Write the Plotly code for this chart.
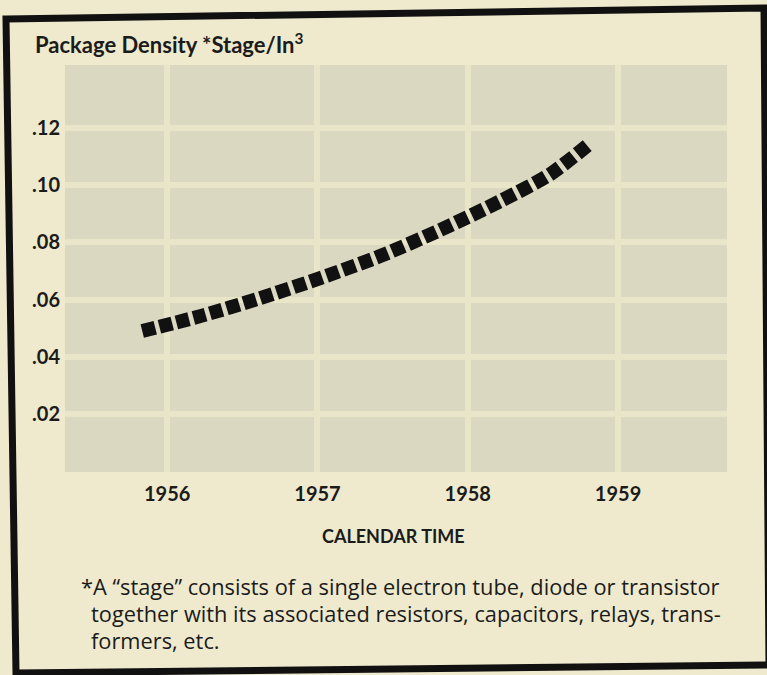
import plotly.graph_objects as go

# ---- data ----
years = [1955.834, 1956.22, 1956.619, 1957.018, 1957.417, 1957.816, 1958.216, 1958.548, 1958.81]
density = [0.0490, 0.0542, 0.0605, 0.0675, 0.0752, 0.0843, 0.0944, 0.1038, 0.1145]

x_tick_vals = [1956, 1957, 1958, 1959]
x_tick_text = ["1956", "1957", "1958", "1959"]
y_tick_vals = [0.02, 0.04, 0.06, 0.08, 0.10, 0.12]
y_tick_text = [".02", ".04", ".06", ".08", ".10", ".12"]

title_text = "Package Density *Stage/In<sup>3</sup>"
x_title = "CALENDAR TIME"
foot1 = "*A \u201cstage\u201d consists of a single electron tube, diode or transistor"
foot2 = "together with its associated resistors, capacitors, relays, trans-"
foot3 = "formers, etc."

COND = "Lato, Roboto, sans-serif"
BODY = "Open Sans, DejaVu Sans, sans-serif"
INK = "#1b1b1b"
PAPER = "#efeacd"
PLOTBG = "#dbd8c2"
GRID = "#e9e5c9"

W, H = 767, 675
L, R, T, B = 65, 40, 65, 203
pw, ph = W - L - R, H - T - B


def px_x(p):
    return (p - L) / pw


def px_y(p):
    return (H - B - p) / ph


# slightly tilted frame (scan skew), in paper fractions
frame_pts = [(6, 19), (764, 8), (769, 665), (16, 673)]
frame_path = "M " + " L ".join(f"{px_x(a):.5f},{px_y(b):.5f}" for a, b in frame_pts) + " Z"

fig = go.Figure()
fig.add_trace(go.Scatter(
    x=years, y=density, mode="lines",
    line=dict(color="#111111", width=14, dash="13px,4.5px", shape="spline", smoothing=0.8),
    hoverinfo="skip", showlegend=False,
))

fig.update_layout(
    width=W, height=H,
    margin=dict(l=L, r=R, t=T, b=B),
    paper_bgcolor=PAPER, plot_bgcolor=PLOTBG,
    showlegend=False,
    xaxis=dict(
        range=[1955.32, 1959.725], tickvals=x_tick_vals, ticktext=x_tick_text,
        showgrid=True, gridcolor=GRID, gridwidth=6, zeroline=False,
        showline=False, ticks="", ticklabelstandoff=8,
        tickfont=dict(family=COND, size=20, color=INK, weight="bold"),
    ),
    yaxis=dict(
        range=[-0.0003, 0.142], tickvals=y_tick_vals, ticktext=y_tick_text,
        showgrid=True, gridcolor=GRID, gridwidth=6, zeroline=False,
        showline=False, ticks="", ticklabelstandoff=4,
        tickfont=dict(family=COND, size=20, color=INK, weight="bold"),
    ),
    shapes=[dict(
        type="path", xref="paper", yref="paper", path=frame_path,
        line=dict(color="#111111", width=7), fillcolor="rgba(0,0,0,0)", layer="above",
    )],
    annotations=[
        dict(text=title_text, xref="paper", yref="paper", x=px_x(33), y=px_y(44),
             xanchor="left", yanchor="middle", showarrow=False,
             font=dict(family=COND, size=22, color=INK, weight="bold")),
        dict(text=x_title, xref="paper", yref="paper", x=px_x(393), y=px_y(536),
             xanchor="center", yanchor="middle", showarrow=False,
             font=dict(family=COND, size=18, color=INK, weight="bold")),
        dict(text=foot1, xref="paper", yref="paper", x=px_x(79), y=px_y(586),
             xanchor="left", yanchor="middle", showarrow=False,
             font=dict(family=BODY, size=21.8, color=INK)),
        dict(text=foot2, xref="paper", yref="paper", x=px_x(89), y=px_y(613),
             xanchor="left", yanchor="middle", showarrow=False,
             font=dict(family=BODY, size=21.8, color=INK)),
        dict(text=foot3, xref="paper", yref="paper", x=px_x(89), y=px_y(640),
             xanchor="left", yanchor="middle", showarrow=False,
             font=dict(family=BODY, size=21.8, color=INK)),
    ],
)

fig.write_html(
    "out.html",
    config={"displayModeBar": False},
    post_script=(
        "document.body.style.margin='0';"
        "document.body.style.background='" + PAPER + "';"
    ),
)
